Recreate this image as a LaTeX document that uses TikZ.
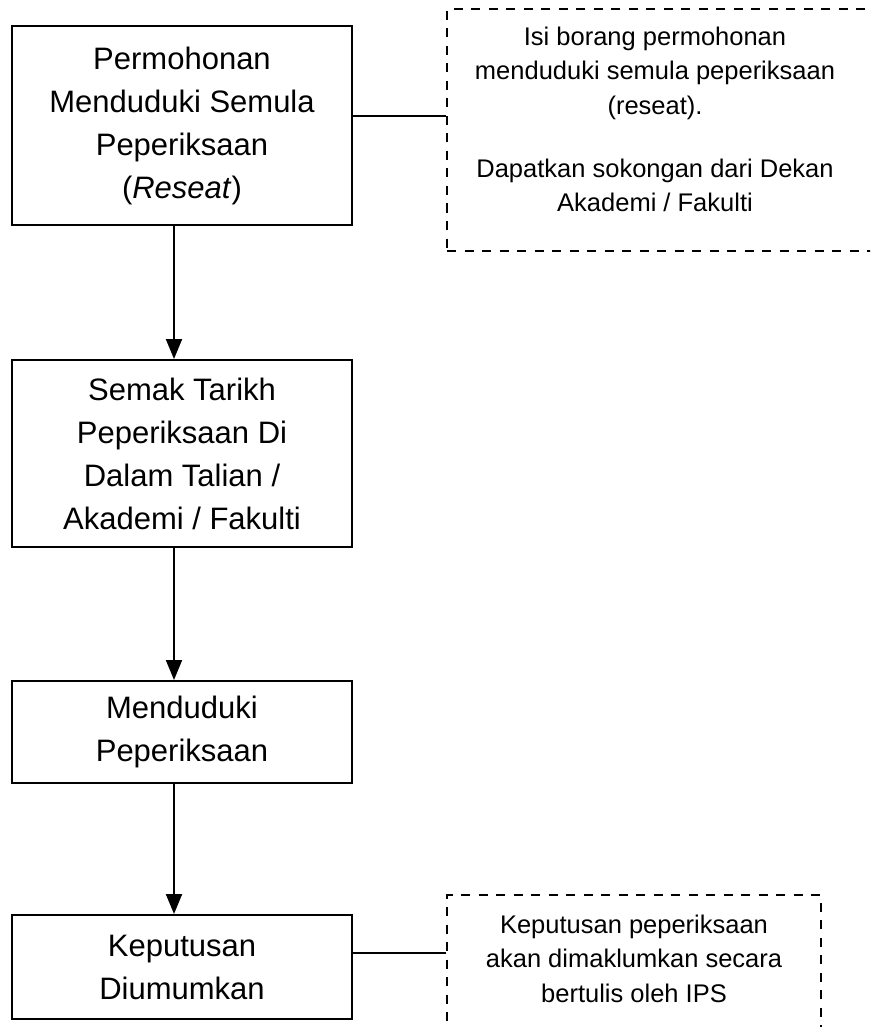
\documentclass[tikz,border=0pt]{standalone}
\usepackage{fontspec}
\setmainfont{Liberation Sans}
\usetikzlibrary{arrows.meta}
\begin{document}
\begin{tikzpicture}[x=1pt,y=-1pt,
  stepbox/.style={draw=black, line width=2pt, minimum width=340pt, inner sep=0pt,
    align=center, font=\fontsize{31}{43}\selectfont},
  notebox/.style={draw=black, line width=2.6pt, dash pattern=on 9pt off 8.5pt, inner sep=0pt},
  notetext/.style={align=center, inner sep=0pt, font=\fontsize{25.5}{34.5}\selectfont},
  conn/.style={line width=2pt},
  arr/.style={line width=2pt, -{Triangle[length=20pt,width=16pt]}}]
\clip (0,0) rectangle (870,1027);
\fill[white] (0,0) rectangle (870,1027);

\node[stepbox, minimum height=199pt] (b1) at (182,125.5)
  {Permohonan\\Menduduki Semula\\Peperiksaan\\(\textit{Reseat})};
\node[stepbox, minimum height=187pt] (b2) at (182,453.5)
  {Semak Tarikh\\Peperiksaan Di\\Dalam Talian /\\Akademi / Fakulti};
\node[stepbox, minimum height=102pt] (b3) at (182,732)
  {Menduduki\\Peperiksaan};
\node[stepbox, minimum height=104pt] (b4) at (182,967)
  {Keputusan\\Diumumkan};

\node[notebox, minimum width=438pt, minimum height=242pt] (n1) at (666,130) {};
\node[notetext] (n1t) at (655,119.3)
  {Isi borang permohonan\\menduduki semula peperiksaan\\(reseat).\\[28.5pt]Dapatkan sokongan dari Dekan\\Akademi / Fakulti};
\node[notebox, minimum width=374pt, minimum height=150pt] (n2) at (634,970) {};
\node[notetext] (n2t) at (634,958.4)
  {Keputusan peperiksaan\\akan dimaklumkan secara\\bertulis oleh IPS};

\coordinate (ax) at (174,0);
\coordinate (c1) at (0,116);
\coordinate (c2) at (0,953);

\draw[arr] (b1.south -| ax) -- (b2.north -| ax);
\draw[arr] (b2.south -| ax) -- (b3.north -| ax);
\draw[arr] (b3.south -| ax) -- (b4.north -| ax);
\draw[conn] (b1.east |- c1) -- (n1.west |- c1);
\draw[conn] (b4.east |- c2) -- (n2.west |- c2);
\end{tikzpicture}
\end{document}
